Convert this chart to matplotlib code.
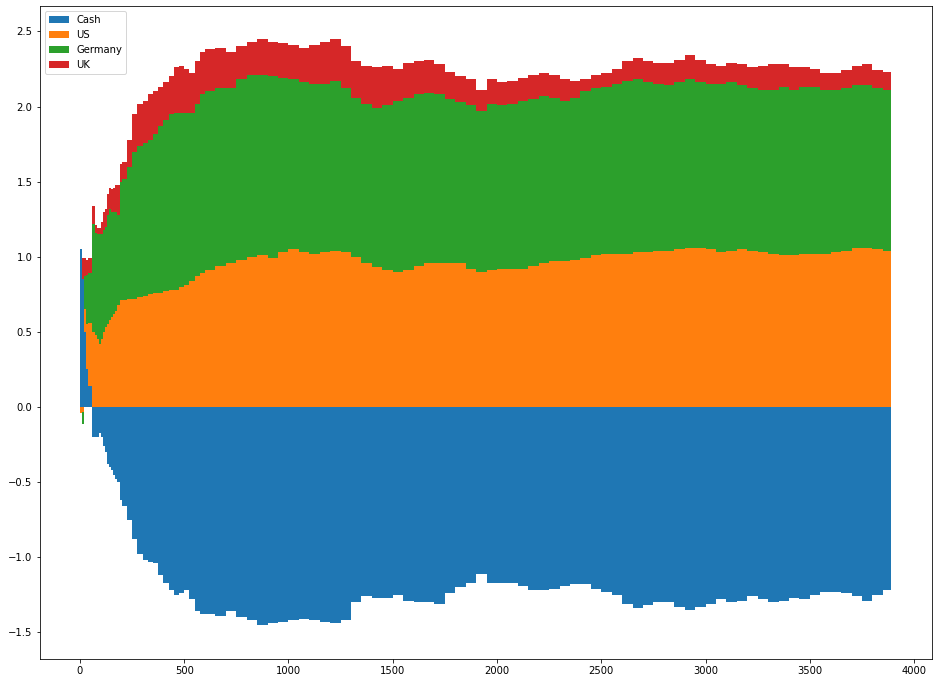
import numpy as np
import matplotlib
matplotlib.use("Agg")
import matplotlib.pyplot as plt

# time index (left edge of each sampled block)
t = [0, 10, 20, 30, 40, 50, 60, 70, 80, 90, 100, 110, 120, 130, 140, 150, 160, 170, 180, 190,
     200, 225, 250, 275, 300, 325, 350, 375, 400, 425, 450, 475, 500, 525, 550, 575,
     600, 650, 700, 750, 800, 850, 900, 950, 1000, 1050, 1100, 1150, 1200, 1250,
     1300, 1350, 1400, 1450, 1500, 1550, 1600, 1650, 1700, 1750, 1800, 1850, 1900, 1950,
     2000, 2050, 2100, 2150, 2200, 2250, 2300, 2350, 2400, 2450, 2500, 2550, 2600, 2650,
     2700, 2750, 2800, 2850, 2900, 2950, 3000, 3050, 3100, 3150, 3200, 3250, 3300, 3350,
     3400, 3450, 3500, 3550, 3600, 3650, 3700, 3750, 3800, 3850]
t_end = 3889

cash = [1.05, 0.85, 0.50, 0.25, 0.14, 0.14, -0.20, -0.20, -0.20, -0.17, -0.20, -0.26, -0.30, -0.38, -0.40, -0.42, -0.45, -0.48, -0.50, -0.62,
        -0.66, -0.75, -0.88, -0.98, -1.02, -1.03, -1.04, -1.12, -1.17, -1.22, -1.25, -1.24, -1.22, -1.28, -1.36, -1.38,
        -1.38, -1.39, -1.36, -1.40, -1.42, -1.45, -1.44, -1.43, -1.42, -1.41, -1.42, -1.43, -1.44, -1.42,
        -1.30, -1.26, -1.27, -1.27, -1.25, -1.29, -1.30, -1.30, -1.31, -1.24, -1.20, -1.17, -1.11, -1.17,
        -1.17, -1.17, -1.19, -1.22, -1.22, -1.21, -1.19, -1.18, -1.18, -1.21, -1.23, -1.25, -1.31, -1.34,
        -1.32, -1.30, -1.30, -1.33, -1.35, -1.33, -1.31, -1.28, -1.30, -1.29, -1.26, -1.28, -1.30, -1.29,
        -1.27, -1.28, -1.25, -1.23, -1.23, -1.24, -1.26, -1.29, -1.25, -1.22]

us = [-0.04, -0.03, 0.15, 0.30, 0.42, 0.42, 0.50, 0.48, 0.45, 0.42, 0.45, 0.50, 0.53, 0.55, 0.58, 0.60, 0.62, 0.64, 0.68, 0.71,
      0.71, 0.72, 0.72, 0.73, 0.74, 0.75, 0.76, 0.76, 0.77, 0.78, 0.78, 0.80, 0.81, 0.84, 0.87, 0.89,
      0.91, 0.94, 0.96, 0.98, 1.00, 1.01, 0.99, 1.03, 1.05, 1.03, 1.02, 1.03, 1.04, 1.03,
      1.00, 0.96, 0.93, 0.91, 0.90, 0.91, 0.94, 0.96, 0.96, 0.96, 0.96, 0.92, 0.90, 0.91,
      0.92, 0.92, 0.92, 0.94, 0.96, 0.97, 0.97, 0.98, 0.99, 1.01, 1.02, 1.02, 1.02, 1.03,
      1.03, 1.04, 1.04, 1.05, 1.06, 1.06, 1.05, 1.03, 1.04, 1.05, 1.04, 1.03, 1.02, 1.01,
      1.01, 1.02, 1.02, 1.02, 1.03, 1.04, 1.06, 1.06, 1.05, 1.04]

germany = [0.00, -0.08, 0.22, 0.33, 0.33, 0.33, 0.72, 0.68, 0.70, 0.73, 0.70, 0.68, 0.67, 0.73, 0.74, 0.70, 0.68, 0.66, 0.60, 0.79,
           0.81, 0.88, 0.98, 1.01, 1.02, 1.03, 1.06, 1.11, 1.14, 1.17, 1.18, 1.16, 1.15, 1.12, 1.15, 1.19,
           1.19, 1.18, 1.16, 1.20, 1.21, 1.20, 1.21, 1.16, 1.13, 1.13, 1.13, 1.12, 1.13, 1.09,
           1.06, 1.06, 1.06, 1.10, 1.14, 1.15, 1.14, 1.13, 1.12, 1.09, 1.07, 1.09, 1.07, 1.11,
           1.09, 1.10, 1.12, 1.11, 1.11, 1.09, 1.07, 1.08, 1.11, 1.11, 1.11, 1.13, 1.15, 1.15,
           1.13, 1.11, 1.10, 1.11, 1.12, 1.10, 1.10, 1.12, 1.12, 1.09, 1.08, 1.08, 1.09, 1.12,
           1.10, 1.11, 1.11, 1.09, 1.08, 1.08, 1.08, 1.08, 1.07, 1.07]

uk = [0.00, 0.14, 0.12, 0.10, 0.10, 0.10, 0.12, 0.05, 0.04, 0.04, 0.08, 0.12, 0.12, 0.14, 0.14, 0.15, 0.16, 0.18, 0.20, 0.12,
      0.11, 0.18, 0.25, 0.28, 0.28, 0.30, 0.28, 0.26, 0.25, 0.25, 0.30, 0.31, 0.29, 0.26, 0.28, 0.28,
      0.28, 0.27, 0.24, 0.22, 0.22, 0.24, 0.23, 0.23, 0.23, 0.23, 0.26, 0.28, 0.28, 0.28,
      0.24, 0.25, 0.27, 0.26, 0.21, 0.23, 0.22, 0.22, 0.20, 0.18, 0.17, 0.17, 0.14, 0.16,
      0.15, 0.15, 0.15, 0.16, 0.15, 0.15, 0.14, 0.11, 0.08, 0.09, 0.09, 0.10, 0.13, 0.14,
      0.14, 0.14, 0.15, 0.15, 0.16, 0.15, 0.13, 0.12, 0.13, 0.14, 0.14, 0.16, 0.17, 0.15,
      0.15, 0.13, 0.12, 0.11, 0.11, 0.12, 0.13, 0.14, 0.12, 0.12]

series = [("Cash", cash, "#1f77b4"), ("US", us, "#ff7f0e"),
          ("Germany", germany, "#2ca02c"), ("UK", uk, "#d62728")]

W, H, DPI = 938, 683, 72
fig = plt.figure(figsize=(W / DPI, H / DPI), dpi=DPI)
ax = fig.add_axes([39.5 / W, (H - 659) / H, (932 - 39.5) / W, (659 - 6) / H])

x = np.array(t, dtype=float)
widths = np.diff(np.append(x, t_end))
pos_bottom = np.zeros(len(x))
neg_bottom = np.zeros(len(x))
for name, vals, col in series:
    v = np.array(vals, dtype=float)
    bottom = np.where(v >= 0, pos_bottom, neg_bottom)
    ax.bar(x, v, width=widths, bottom=bottom, align="edge", color=col,
           label=name, linewidth=0, antialiased=False)
    pos_bottom = pos_bottom + np.where(v >= 0, v, 0)
    neg_bottom = neg_bottom + np.where(v < 0, v, 0)

ax.set_xlim(-194, 4086)
ax.set_ylim(-1.677, 2.669)
ax.set_xticks([0, 500, 1000, 1500, 2000, 2500, 3000, 3500, 4000])
ax.set_yticks([-1.5, -1.0, -0.5, 0.0, 0.5, 1.0, 1.5, 2.0, 2.5])
ax.legend(loc="upper left")

fig.savefig("out.png", dpi=DPI)
